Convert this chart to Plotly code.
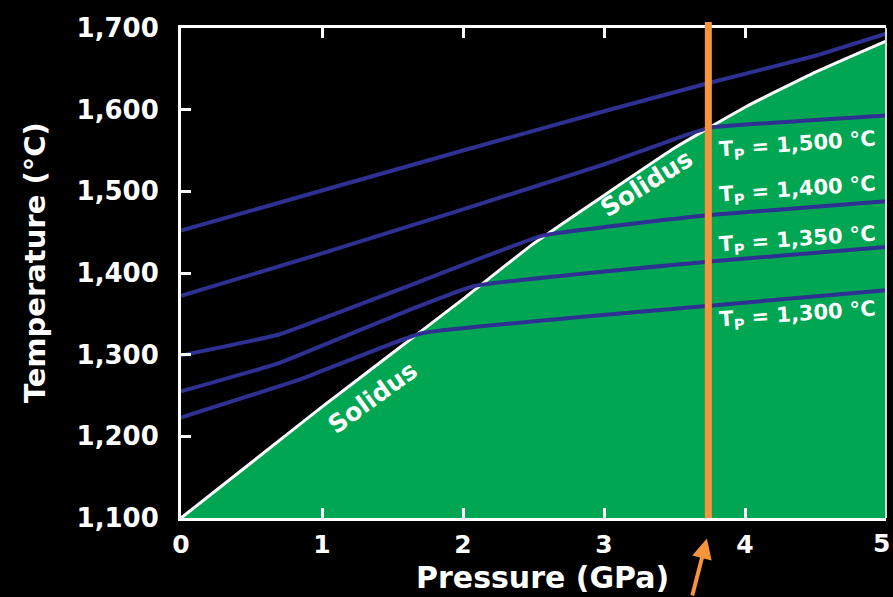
import plotly.graph_objects as go

# ---- data ----
solidus_p = [0, 0.5, 1, 1.5, 2, 2.5, 3, 3.5, 4, 4.5, 5]
solidus_t = [1100, 1168, 1236, 1302, 1368, 1436, 1495, 1553, 1603, 1646, 1684]

adiabat_top_p = [0, 1, 2, 3, 3.75, 4.5, 5]
adiabat_top_t = [1452, 1501, 1550, 1598, 1633, 1666, 1693]

adiabat_1500_p = [0, 1, 2, 3, 3.6, 3.75, 5]
adiabat_1500_t = [1372, 1424, 1478, 1533, 1570, 1578, 1593]

adiabat_1400_p = [0, 0.7, 1.55, 2.57, 3.75, 5]
adiabat_1400_t = [1299, 1325, 1380, 1446, 1471, 1488]

adiabat_1350_p = [0, 0.7, 1.55, 2.08, 3.75, 5]
adiabat_1350_t = [1255, 1290, 1350, 1384, 1414, 1432]

adiabat_1300_p = [0, 0.85, 1.7, 3.75, 5]
adiabat_1300_t = [1223, 1270, 1326, 1360, 1379]

tp_labels = ["T<sub>P</sub> = 1,500 °C", "T<sub>P</sub> = 1,400 °C",
             "T<sub>P</sub> = 1,350 °C", "T<sub>P</sub> = 1,300 °C"]
tp_label_p = [4.37, 4.37, 4.37, 4.37]
tp_label_t = [1557, 1502, 1440, 1349]

solidus_label_p = [1.36, 3.3]
solidus_label_t = [1248, 1510]
solidus_label_angle = [-36, -32]

x_ticks = [0, 1, 2, 3, 4, 5]
x_ticktext = ["0", "1", "2", "3", "4", "5"]
y_ticks = [1100, 1200, 1300, 1400, 1500, 1600, 1700]
y_ticktext = ["1,100", "1,200", "1,300", "1,400", "1,500", "1,600", "1,700"]

marker_p = 3.74

# ---- styles ----
GREEN = "#00A651"
BLUE = "#2E3192"
ORANGE = "#F7943E"
FONT = "DejaVu Sans"
TICKFONT = dict(family=FONT, size=25, color="white", weight="bold")

fig = go.Figure()

# green region under solidus
fig.add_trace(go.Scatter(x=solidus_p, y=solidus_t, mode="lines",
                         line=dict(color="white", width=3, shape="spline", smoothing=0.4),
                         fill="tozeroy", fillcolor=GREEN, hoverinfo="skip"))

for px_, ty_ in [(adiabat_top_p, adiabat_top_t), (adiabat_1500_p, adiabat_1500_t),
                 (adiabat_1400_p, adiabat_1400_t), (adiabat_1350_p, adiabat_1350_t),
                 (adiabat_1300_p, adiabat_1300_t)]:
    fig.add_trace(go.Scatter(x=px_, y=ty_, mode="lines",
                             line=dict(color=BLUE, width=4, shape="spline", smoothing=0.3),
                             hoverinfo="skip"))

annotations = []
for txt, p, t in zip(tp_labels, tp_label_p, tp_label_t):
    annotations.append(dict(x=p, y=t, xref="x", yref="y", text=txt, showarrow=False,
                            textangle=-4, font=dict(family=FONT, size=21, color="white",
                                                    weight="bold")))
for p, t, a in zip(solidus_label_p, solidus_label_t, solidus_label_angle):
    annotations.append(dict(x=p, y=t, xref="x", yref="y", text="Solidus", showarrow=False,
                            textangle=a, font=dict(family=FONT, size=25, color="white",
                                                   weight="bold")))
# last x tick label, kept inside the page edge
annotations.append(dict(x=1.008, y=-0.053, xref="paper", yref="paper",
                        text=x_ticktext[-1], showarrow=False, xanchor="right",
                        yanchor="middle", font=TICKFONT))
# axis titles
annotations.append(dict(x=0.513, y=-0.122, xref="paper", yref="paper",
                        text="Pressure (GPa)", showarrow=False, xanchor="center",
                        yanchor="middle",
                        font=dict(family=FONT, size=30, color="white", weight="bold")))
annotations.append(dict(x=-0.207, y=0.52, xref="paper", yref="paper",
                        text="Temperature (°C)", showarrow=False, xanchor="center",
                        yanchor="middle", textangle=-90,
                        font=dict(family=FONT, size=29, color="white", weight="bold")))
# orange arrow
annotations.append(dict(x=marker_p - 0.01, y=-0.042, xref="x", yref="paper", ax=-15, ay=62,
                        axref="pixel", ayref="pixel", text="", showarrow=True,
                        arrowhead=2, arrowsize=1, arrowwidth=4, arrowcolor=ORANGE))

shapes = [
    dict(type="line", xref="x", yref="paper", x0=marker_p, x1=marker_p, y0=0, y1=1.012,
         line=dict(color=ORANGE, width=7), layer="above"),
    dict(type="line", xref="paper", yref="paper", x0=1, x1=1, y0=0, y1=1,
         line=dict(color="#d8d8d8", width=2), layer="above"),
]

fig.update_layout(
    width=893, height=597,
    margin=dict(l=181, r=7, t=28, b=79, autoexpand=False),
    paper_bgcolor="black", plot_bgcolor="black",
    showlegend=False,
    annotations=annotations, shapes=shapes,
    xaxis=dict(range=[0, 5], tickvals=x_ticks, ticktext=x_ticktext[:-1] + [""],
               ticks="inside", ticklen=10, tickwidth=3, tickcolor="white",
               showline=True, linecolor="white", linewidth=3, mirror="ticks",
               showgrid=False, zeroline=False, ticklabelstandoff=2,
               automargin=False, tickfont=TICKFONT),
    yaxis=dict(range=[1100, 1700], tickvals=y_ticks, ticktext=y_ticktext,
               ticks="inside", ticklen=10, tickwidth=3, tickcolor="white",
               showline=True, linecolor="white", linewidth=3, automargin=False,
               showgrid=False, zeroline=False, ticklabelstandoff=14,
               tickfont=dict(family=FONT, size=26, color="white", weight="bold")),
)

fig.write_html("out.html")
